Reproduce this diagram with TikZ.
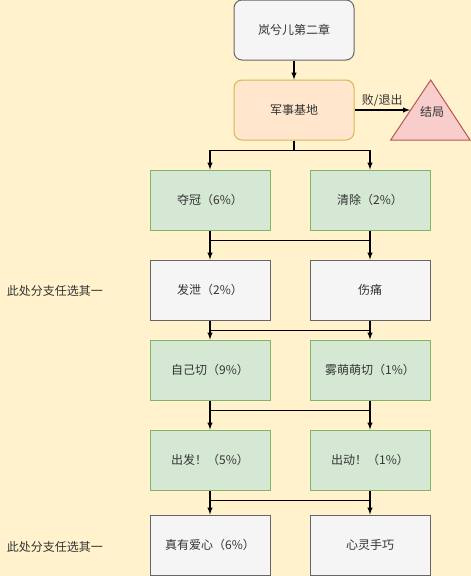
\documentclass[tikz,border=0pt]{standalone}
\usepackage{fontspec}
\setmainfont{Noto Sans CJK SC}
\definecolor{bg}{HTML}{FFF2CC}
\definecolor{txt}{HTML}{333333}
\definecolor{greenfill}{HTML}{D5E8D4}
\definecolor{greenline}{HTML}{82B366}
\definecolor{grayfill}{HTML}{F5F5F5}
\definecolor{grayline}{HTML}{666666}
\definecolor{orangefill}{HTML}{FFE6CC}
\definecolor{orangeline}{HTML}{D6B656}
\definecolor{redfill}{HTML}{F8CECC}
\definecolor{redline}{HTML}{B85450}
\begin{document}
\begin{tikzpicture}[x=0.75pt,y=-0.75pt,
    every node/.style={font=\fontsize{9}{11}\selectfont,text=txt},
    box/.style={minimum width=90pt,minimum height=45pt,inner sep=0pt,line width=0.75pt},
    greenbox/.style={box,draw=greenline,fill=greenfill},
    graybox/.style={box,draw=grayline,fill=grayfill},
    link/.style={line width=0.8pt,-latex}]
    \fill[bg] (0,0) rectangle (471,576);% background
    \useasboundingbox (0,0) rectangle (471,576);
    % top part
    \node[graybox,rounded corners=6pt] (start) at (294,30) {岚兮儿第二章};
    \node[box,draw=orangeline,fill=orangefill,rounded corners=6pt] (base) at (294,110) {军事基地};
    \filldraw[fill=redfill,draw=redline,line width=0.75pt] (430.7,80) -- (470,140) -- (390.7,140) -- cycle;
    \node (end) at (432,112) {结局};
    \coordinate (endin) at (410,110);
    % rows of boxes
    \node[greenbox] (dg) at (210,200) {夺冠（6\%）};
    \node[greenbox] (qc) at (370,200) {清除（2\%）};
    \node[graybox] (fx) at (210,290) {发泄（2\%）};
    \node[graybox] (sc) at (370,290) {伤痛};
    \node[greenbox] (zj) at (210,370) {自己切（9\%）};
    \node[greenbox] (wm) at (370,370) {雾萌萌切（1\%）};
    \node[greenbox] (cf) at (210,460) {出发！（5\%）};
    \node[greenbox] (cd) at (370,460) {出动！（1\%）};
    \node[graybox] (ax) at (210,545) {真有爱心（6\%）};
    \node[graybox] (sq) at (370,545) {心灵手巧};
    % notes on the left
    \node (note1) at (55,291) {此处分支任选其一};
    \node (note2) at (55,547) {此处分支任选其一};
    % connectors
    \draw[link] (start) -- (base);
    \draw[link] (base) -- node[above=-1pt] {败/退出} (endin);
    \draw[link] (base.south) -- ++(0,10) -| (dg.north);
    \draw[link] (base.south) -- ++(0,10) -| (qc.north);
    \foreach \ul/\ur/\ll/\lr in {dg/qc/fx/sc,fx/sc/zj/wm,zj/wm/cf/cd,cf/cd/ax/sq}{% each pair of rows
      \draw[link] (\ul.south) -- ++(0,10) -| (\lr.north);
      \draw[link] (\ur.south) -- ++(0,10) -| (\ll.north);}
\end{tikzpicture}
\end{document}
